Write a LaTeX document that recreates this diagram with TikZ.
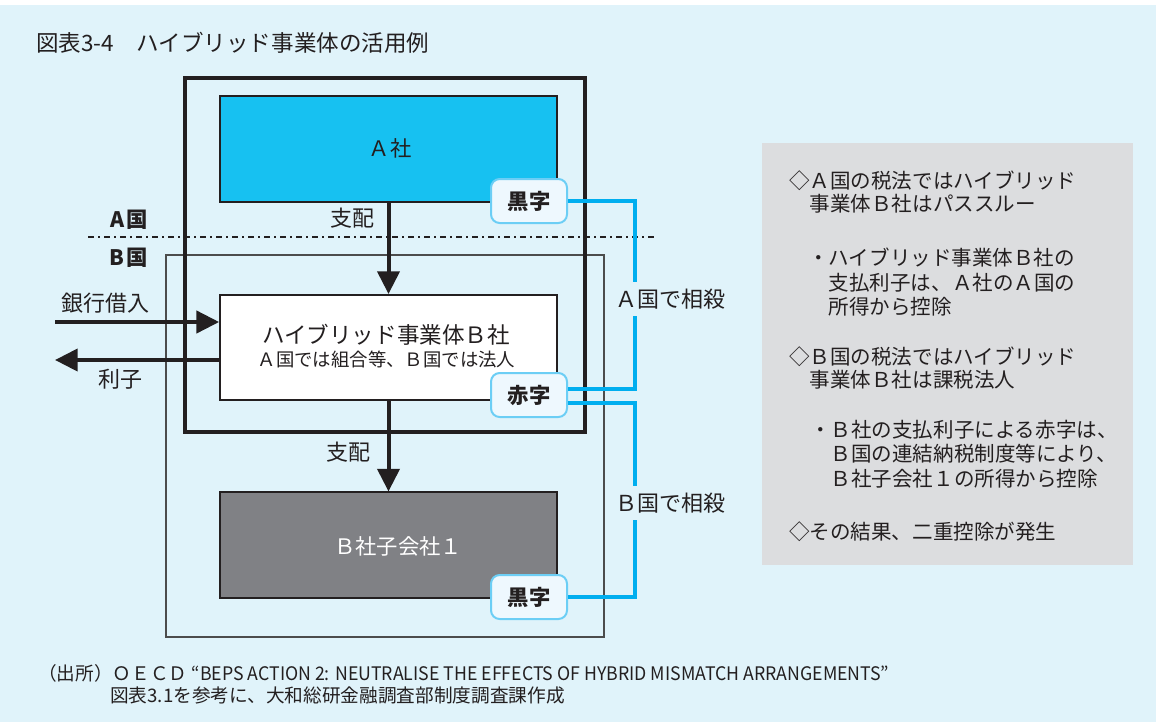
\documentclass[tikz,border=0pt]{standalone}
\usepackage{fontspec}
\setmainfont{Noto Sans CJK JP}
\usepackage{graphicx}
\usetikzlibrary{arrows.meta,calc}
\definecolor{bg}{HTML}{E0F3FA}
\definecolor{cyanbox}{HTML}{17C1F1}
\definecolor{conncol}{HTML}{00AEEF}
\definecolor{badgefill}{HTML}{EEF8FE}
\definecolor{badgeline}{HTML}{6CCEF5}
\definecolor{greybox}{HTML}{DCDDDF}
\definecolor{subfill}{HTML}{808185}
\definecolor{ink}{HTML}{231F20}
\newcommand\myfs[1]{\fontsize{#1}{#1}\selectfont}
\begin{document}
\begin{tikzpicture}[x=0.75pt,y=-0.75pt,
  every node/.style={text=ink, inner sep=0pt},
  entbox/.style={draw=ink, line width=1.3pt, minimum width=252.75pt, minimum height=79pt},
  badge/.style={draw=badgeline, fill=badgefill, line width=1.5pt, rounded corners=6.5pt,
    minimum width=57pt, minimum height=33pt, font=\myfs{16}\bfseries},
  arr/.style={draw=ink, line width=3pt, -{Triangle[length=17pt,width=16.5pt]}},
  conn/.style={draw=conncol, line width=2.5pt},
  lbl/.style={font=\myfs{16.5}},
  sosai/.style={font=\myfs{16.5}, fill=bg, minimum height=25.5pt, inner xsep=1pt},
  gtxt/.style={font=\myfs{15.4}, anchor=west, text height=13.5pt, text depth=1.9pt},
  ftxt/.style={font=\myfs{14}, anchor=west}]
\useasboundingbox (0,0) rectangle (1156,722);
\fill[white] (0,0) rectangle (1156,722);
\fill[bg] (0,5) rectangle (1156,722);

% title
\node[font=\myfs{16.9}, anchor=west] (title) at (36,43) {図表3-4　ハイブリッド事業体の活用例};

% country frames
\draw[draw=black!70, line width=0.8pt] (166,255) rectangle (604,637);
\draw[ink, line width=1pt, dash pattern=on 4.5pt off 3pt on 1.5pt off 3pt] (88,237) -- (658,237);
\draw[ink, line width=3pt] (185,78) rectangle (585,432);
\node[font=\myfs{16}\bfseries] (labA) at (129,220) {A\kern1.5pt 国};
\node[font=\myfs{16}\bfseries] (labB) at (129,258) {B\kern1.5pt 国};

% entities
\node[entbox, fill=cyanbox] (asha) at (388.5,149) {};
\node[font=\myfs{16}] (ashat) at (390,148) {Ａ社};
\node[entbox, fill=white] (bsha) at (388.5,347.5) {};
\node[font=\myfs{16.9}] (bshat1) at (386,335) {ハイブリッド事業体Ｂ社};
\node[font=\myfs{13.8}] (bshat2) at (386.5,359) {Ａ国では組合等、Ｂ国では法人};
\node[entbox, fill=subfill] (sub) at (388.5,545) {};
\node[font=\myfs{16}, text=white] (subt) at (398,546) {Ｂ社子会社１};

% control arrows
\draw[arr] (asha.south) -- (bsha.north);
\node[lbl] (ctl1) at (352,218) {支配};
\draw[arr] (bsha.south) -- (sub.north);
\node[lbl] (ctl2) at (348,452) {支配};

% bank loan / interest
\coordinate (bankin) at (55,322);
\coordinate (riout) at (55,360);
\draw[arr] (bankin) -- (bankin -| bsha.west);
\node[lbl] (bankl) at (105,303) {銀行借入};
\draw[arr] (riout -| bsha.west) -- (riout);
\node[lbl] (ril) at (120,379) {利子};

% badges
\node[badge] (kuro1) at (529,201) {黒字};
\node[badge] (aka) at (529,395) {赤字};
\node[badge] (kuro2) at (529,597) {黒字};

% offset connectors
\draw[conn] (kuro1.east) -| ($(aka.east)+(67,-6)$) -- ($(aka.east)+(0,-6)$);
\draw[conn] ($(aka.east)+(0,8)$) -| ($(kuro2.east)+(67,0)$) -- (kuro2.east);
\node[sosai] (sosA) at (670,299) {Ａ国で相殺};
\node[sosai] (sosB) at (670,503) {Ｂ国で相殺};

% explanation box
\node[fill=greybox, minimum width=278.25pt, minimum height=316.5pt] (expl) at (947.5,354) {};
\node[gtxt] (e1) at (789,181) {◇Ａ国の税法ではハイブリッド};
\node[gtxt] (e2) at (789,204) {　事業体Ｂ社はパススルー};
\node[gtxt] (e3) at (808,258) {・ハイブリッド事業体Ｂ社の};
\node[gtxt] (e4) at (808,283) {　支払利子は、Ａ社のＡ国の};
\node[gtxt] (e5) at (808,307) {　所得から控除};
\node[gtxt] (e6) at (789,357) {◇Ｂ国の税法ではハイブリッド};
\node[gtxt] (e7) at (789,380) {　事業体Ｂ社は課税法人};
\node[gtxt] (e8) at (810,430) {・Ｂ社の支払利子による赤字は、};
\node[gtxt] (e9) at (810,454) {　Ｂ国の連結納税制度等により、};
\node[gtxt] (e10) at (810,479) {　Ｂ社子会社１の所得から控除};
\node[gtxt] (e11) at (789,532) {◇その結果、二重控除が発生};

% footer
\node[ftxt] (f1) at (38,673) {（出所）ＯＥＣＤ \scalebox{0.95}[1]{“BEPS ACTION 2: NEUTRALISE THE EFFECTS OF HYBRID MISMATCH ARRANGEMENTS”}};
\node[ftxt] (f2) at (110,695) {図表3.1を参考に、大和総研金融調査部制度調査課作成};
\end{tikzpicture}
\end{document}
